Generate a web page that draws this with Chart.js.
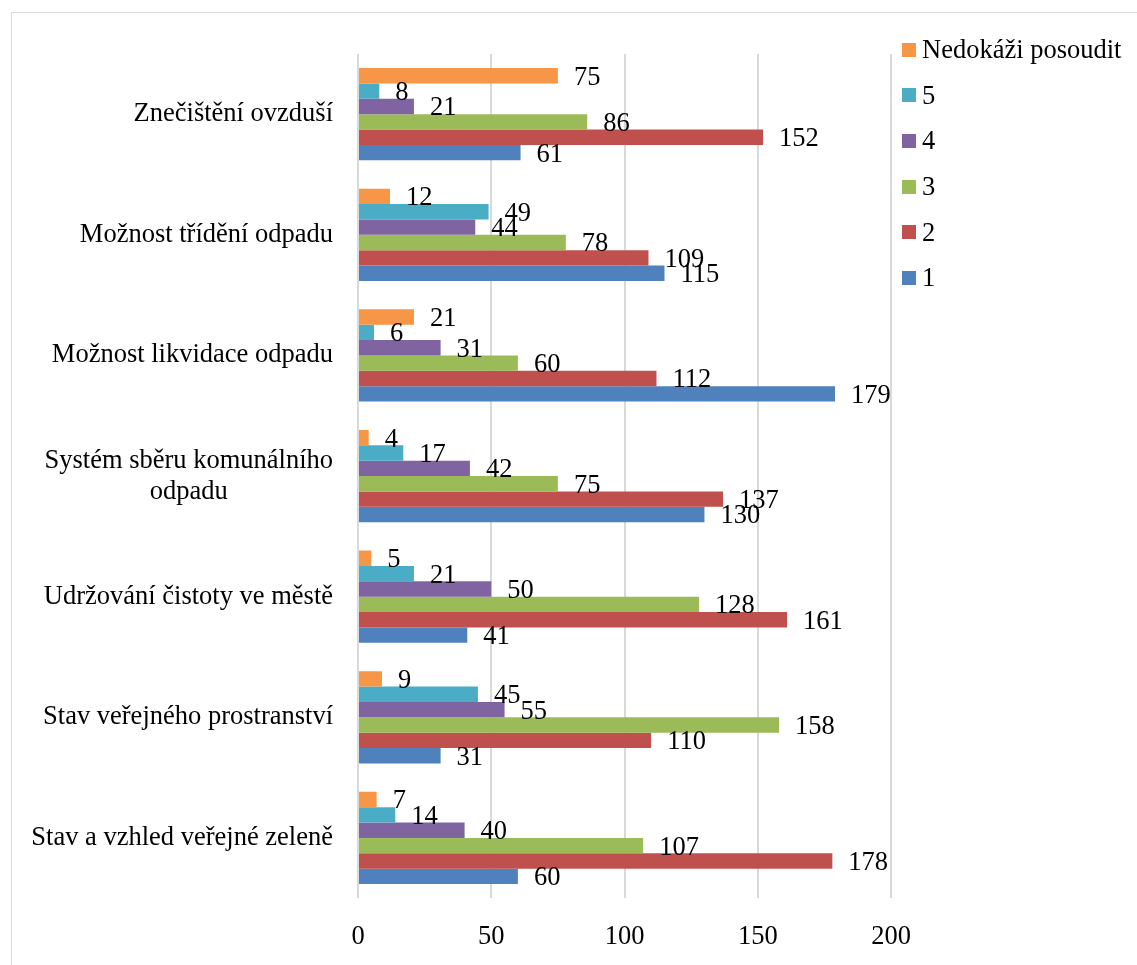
<!DOCTYPE html>
<html lang="cs">
<head>
<meta charset="utf-8">
<title>Hodnocení oblastí</title>
<script src="https://cdn.jsdelivr.net/npm/chart.js@4.4.1/dist/chart.umd.min.js"></script>
<style>
  html, body { margin: 0; padding: 0; background: #fff; overflow: hidden; }
  body { width: 1137px; height: 965px; position: relative; font-family: "Liberation Serif", "Times New Roman", serif; }
  #frame {
    position: absolute; left: 11px; top: 12px; width: 1200px; height: 1000px;
    border-left: 1px solid #d9d9d9; border-top: 1px solid #d9d9d9;
  }
  #chart { position: absolute; left: 0; top: 0; }
  #legend { position: absolute; left: 902px; top: 27px; }
  .legend-item { display: flex; align-items: center; height: 45.6px; font-size: 26.5px; color: #000; white-space: nowrap; }
  .legend-box { width: 14px; height: 14px; margin-right: 6px; }
</style>
</head>
<body>
<div id="frame">
  <canvas id="chart" width="1125" height="975"></canvas>
</div>
<div id="legend"></div>

<script>
// Categories (top to bottom)
const categories = [
  "Znečištění ovzduší",
  "Možnost třídění odpadu",
  "Možnost likvidace odpadu",
  ["Systém sběru komunálního", "odpadu"],
  "Udržování čistoty ve městě",
  "Stav veřejného prostranství",
  "Stav a vzhled veřejné zeleně",
];

// Series values, one per category
const nedokaziPosoudit = [75, 12, 21, 4, 5, 9, 7];
const grade5 = [8, 49, 6, 17, 21, 45, 14];
const grade4 = [21, 44, 31, 42, 50, 55, 40];
const grade3 = [86, 78, 60, 75, 128, 158, 107];
const grade2 = [152, 109, 112, 137, 161, 110, 178];
const grade1 = [61, 115, 179, 130, 41, 31, 60];

// Axis ticks
const xTicks = [0, 50, 100, 150, 200];

const FONT = "Liberation Serif";
const FONT_SIZE = 26.5;

// Draw value labels to the right of each bar
const valueLabels = {
  id: "valueLabels",
  afterDatasetsDraw(chart) {
    const ctx = chart.ctx;
    ctx.save();
    ctx.font = FONT_SIZE + "px '" + FONT + "'";
    ctx.fillStyle = "#000";
    ctx.textAlign = "left";
    ctx.textBaseline = "middle";
    chart.data.datasets.forEach((ds, i) => {
      const meta = chart.getDatasetMeta(i);
      meta.data.forEach((bar, j) => {
        ctx.fillText(String(ds.data[j]), bar.x + 16, bar.y + 2);
      });
    });
    ctx.restore();
  },
};

// Category labels: block right-aligned, lines centred inside the block
const categoryLabels = {
  id: "categoryLabels",
  afterDraw(chart) {
    const ctx = chart.ctx;
    const yScale = chart.scales.y;
    const lineHeight = 31;
    ctx.save();
    ctx.font = FONT_SIZE + "px '" + FONT + "'";
    ctx.fillStyle = "#000";
    ctx.textAlign = "center";
    ctx.textBaseline = "middle";
    chart.data.labels.forEach((label, i) => {
      const lines = Array.isArray(label) ? label : [label];
      const blockW = Math.max(...lines.map((l) => ctx.measureText(l).width));
      const right = yScale.right - 25;
      const cy = yScale.getPixelForTick(i);
      lines.forEach((line, k) => {
        const y = cy - ((lines.length - 1) * lineHeight) / 2 + k * lineHeight;
        ctx.fillText(line, right - blockW / 2, y);
      });
    });
    ctx.restore();
  },
};

const chart = new Chart(document.getElementById("chart"), {
  type: "bar",
  data: {
    labels: categories,
    datasets: [
      { label: "Nedokáži posoudit", data: nedokaziPosoudit, backgroundColor: "#F79646" },
      { label: "5", data: grade5, backgroundColor: "#4BACC6" },
      { label: "4", data: grade4, backgroundColor: "#8064A2" },
      { label: "3", data: grade3, backgroundColor: "#9BBB59" },
      { label: "2", data: grade2, backgroundColor: "#C0504D" },
      { label: "1", data: grade1, backgroundColor: "#4F81BD" },
    ],
  },
  options: {
    indexAxis: "y",
    responsive: false,
    animation: false,
    datasets: {
      bar: {
        categoryPercentage: 0.765,
        barPercentage: 1.0,
        borderWidth: 0,
      },
    },
    layout: {
      padding: { left: 0, right: 246, top: 38, bottom: 12 },
    },
    plugins: {
      legend: { display: false },
      tooltip: { enabled: false },
    },
    scales: {
      x: {
        min: xTicks[0],
        max: xTicks[xTicks.length - 1],
        afterBuildTicks: (scale) => {
          scale.ticks = xTicks.map((v) => ({ value: v }));
        },
        border: { display: false },
        grid: { color: "#d9d9d9", lineWidth: 2, drawTicks: false },
        ticks: {
          color: "#000",
          padding: 23,
          font: { family: FONT, size: FONT_SIZE },
        },
      },
      y: {
        border: { display: false },
        grid: { display: false, drawTicks: false },
        // room for the category labels on the left
        afterFit: (scale) => {
          scale.width = 346;
        },
        ticks: {
          color: "rgba(0,0,0,0)",
          padding: 25,
          font: { family: FONT, size: FONT_SIZE },
        },
      },
    },
  },
  plugins: [valueLabels, categoryLabels],
});

// HTML legend built from the datasets
const legendEl = document.getElementById("legend");
chart.data.datasets.forEach((ds) => {
  const item = document.createElement("div");
  item.className = "legend-item";
  const box = document.createElement("span");
  box.className = "legend-box";
  box.style.background = ds.backgroundColor;
  item.appendChild(box);
  item.appendChild(document.createTextNode(ds.label));
  legendEl.appendChild(item);
});
</script>
</body>
</html>
